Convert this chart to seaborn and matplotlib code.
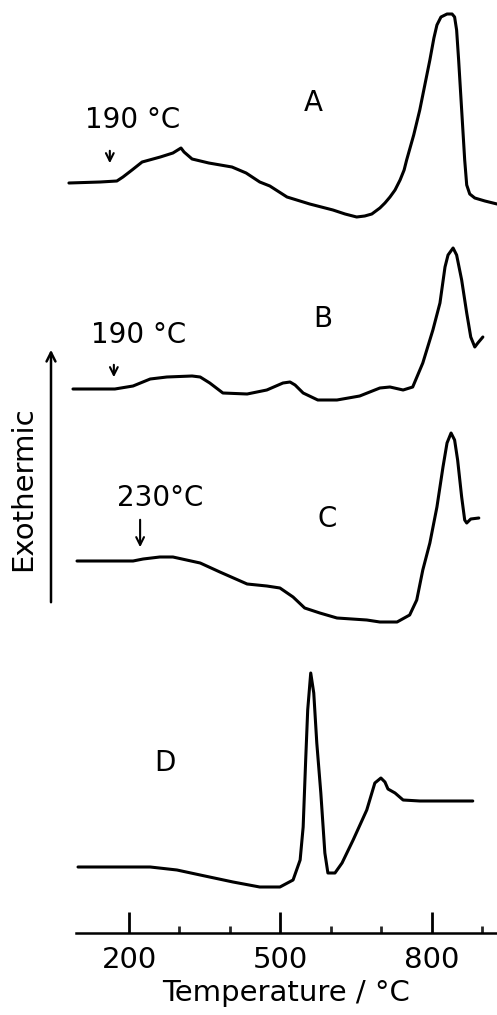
import numpy as np
import pandas as pd
import matplotlib
matplotlib.use("Agg")
import matplotlib.pyplot as plt
import seaborn as sns

# ---------------- data ----------------
# temperature (deg C) and DTA signal (arbitrary units, relative to each curve's baseline)
temp_A = [81, 143, 176, 188, 206, 226, 262, 287, 303, 309, 325, 358, 404, 432, 459, 479, 513, 558,
          604, 628, 651, 667, 681, 697, 707, 717, 727, 737, 745, 750, 764, 776, 786, 796, 804, 810,
          818, 830, 840, 845, 849, 853, 859, 865, 869, 875, 885, 905, 929]
sig_A = [0, 1, 2, 6, 13, 21, 26, 30, 35, 31, 24, 20, 16, 10, 1, -3, -14, -21,
         -27, -31, -34, -33, -31, -25, -20, -14, -7, 3, 13, 23, 48, 73, 98, 123, 145, 158,
         166, 169, 169, 166, 153, 123, 73, 23, -2, -11, -15, -18, -21]

temp_B = [89, 172, 208, 242, 275, 325, 341, 360, 386, 434, 473, 505, 519, 529, 545, 574, 612,
          657, 697, 717, 743, 762, 782, 802, 816, 826, 832, 842, 849, 859, 869, 877, 885, 891, 901]
sig_B = [0, 0, 3, 10, 12, 13, 12, 6, -4, -5, -1, 6, 7, 4, -4, -11, -11,
         -7, 1, 2, -1, 2, 26, 59, 86, 122, 134, 141, 134, 109, 76, 52, 42, 46, 52]

temp_C = [97, 208, 228, 261, 287, 341, 380, 434, 473, 499, 525, 548, 578, 612, 671, 697,
          731, 756, 770, 782, 796, 810, 822, 830, 838, 845, 851, 859, 865, 869, 877, 893]
sig_C = [0, 0, 2, 4, 4, -2, -11, -23, -25, -27, -36, -47, -52, -57, -59, -61,
         -61, -54, -39, -9, 18, 54, 94, 118, 128, 121, 101, 64, 41, 38, 42, 43]

temp_D = [99, 242, 295, 341, 406, 459, 499, 525, 539, 545, 550, 554, 560, 566, 572, 580, 588,
          594, 608, 622, 644, 671, 687, 699, 707, 713, 727, 743, 776, 881]
sig_D = [0, 0, -3, -8, -15, -20, -20, -13, 7, 40, 107, 157, 194, 174, 124, 74, 14,
         -6, -6, 4, 27, 57, 84, 89, 85, 78, 74, 67, 66, 66]

curve_names = ["A", "B", "C", "D"]
onset_labels = ["190 °C", "190 °C", "230°C"]
onset_temps = [162, 170, 222]
xticks_major = [200, 500, 800]
xticks_minor = [300, 400, 600, 700, 900]

# ---------------- layout ----------------
offsets = {"A": 750, "B": 544, "C": 372, "D": 66}

frames = []
for name, t, s in zip(curve_names, [temp_A, temp_B, temp_C, temp_D], [sig_A, sig_B, sig_C, sig_D]):
    frames.append(pd.DataFrame({"T": t, "y": np.array(s) + offsets[name], "curve": name}))
df = pd.concat(frames, ignore_index=True)

sns.set_style("white")
plt.rcParams["font.family"] = ["DejaVu Sans"]

fig = plt.figure(figsize=(4.97, 10.15), dpi=100)
ax = fig.add_axes([76 / 497, 82 / 1015, 421 / 497, 933 / 1015])

for name in curve_names:
    sub = df[df["curve"] == name]
    sns.lineplot(data=sub, x="T", y="y", sort=False, estimator=None, ax=ax,
                 color="black", lw=2.2, clip_on=False)
for line in ax.get_lines():
    line.set_solid_joinstyle("round")
    line.set_solid_capstyle("round")

ax.set_xlim(95, 929)
ax.set_ylim(0, 933)

for s in ["left", "right", "top"]:
    ax.spines[s].set_visible(False)
ax.spines["bottom"].set_linewidth(1.8)
ax.spines["bottom"].set_color("black")
ax.set_yticks([])
ax.set_xticks(xticks_major)
ax.set_xticks(xticks_minor, minor=True)
ax.tick_params(axis="x", which="major", direction="in", length=15, width=2, pad=9,
               labelsize=21, colors="black", bottom=True)
ax.tick_params(axis="x", which="minor", direction="in", length=5, width=2, bottom=True)
ax.set_xlabel("Temperature / °C", fontsize=21, labelpad=4, color="black")
ax.set_ylabel("")

# onset annotations
label_pos = [(208, 813), (220, 598), (261, 435)]
arrow_y = [(785, 767), (571, 553), (416, 383)]
for lab, tx, (lx, ly), (y0, y1) in zip(onset_labels, onset_temps, label_pos, arrow_y):
    ax.text(lx, ly, lab, ha="center", va="center", fontsize=20, color="black")
    ax.annotate("", xy=(tx, y1), xytext=(tx, y0),
                arrowprops=dict(arrowstyle="->", color="black", lw=1.5, mutation_scale=14))

letter_pos = {"A": (566, 830), "B": (584, 614), "C": (592, 414), "D": (271, 170)}
for name in curve_names:
    x, y = letter_pos[name]
    ax.text(x, y, name, ha="center", va="center", fontsize=20, color="black")

# Exothermic arrow
fig.patches.append(matplotlib.patches.FancyArrowPatch(
    (51 / 497, 1 - 605 / 1015), (51 / 497, 1 - 347 / 1015), transform=fig.transFigure,
    arrowstyle="->", color="black", lw=1.8, mutation_scale=16))
fig.text(23 / 497, 1 - 489 / 1015, "Exothermic", rotation=90, ha="center", va="center",
         fontsize=21, color="black")

fig.savefig("out.png", dpi=100)
